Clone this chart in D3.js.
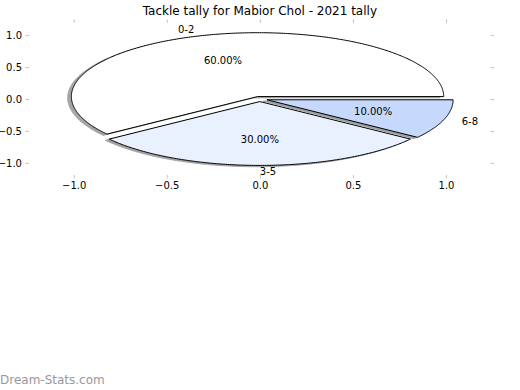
<!DOCTYPE html>
<html>
<head>
<meta charset="utf-8">
<script src="https://cdn.jsdelivr.net/npm/d3@7"></script>
<style>
  body { margin: 0; background: #fff; }
  svg { font-family: "DejaVu Sans", sans-serif; }
  .tick line { stroke: #c4c4c4; }
  .tick text { fill: #000; font-size: 10px; }
</style>
</head>
<body>
<svg id="chart"></svg>
<script>
// pie data
const labels = ['0-2', '3-5', '6-8'];
const values = [60, 30, 10];
const colors = ['#ffffff', '#eaf1fe', '#c6d9fd'];
const explode = [0.04, 0.04, 0.04];

// axis ticks
const xTicks = [-1.0, -0.5, 0.0, 0.5, 1.0];
const yTicks = [-1.0, -0.5, 0.0, 0.5, 1.0];

const width = 520, height = 390;
const margin = {top: 23, right: 29.3, bottom: 215, left: 29};

const svg = d3.select('#chart')
    .attr('width', width)
    .attr('height', height);

const x = d3.scaleLinear().domain([-1.24, 1.24]).range([margin.left, width - margin.right]);
const y = d3.scaleLinear().domain([-1.19, 1.19]).range([height - margin.bottom, margin.top]);

// axes (ticks only, no spines)
const fmt = d3.format('.1f');
svg.append('g')
    .attr('transform', `translate(${margin.left},0)`)
    .call(d3.axisLeft(y).tickValues(yTicks).tickFormat(fmt).tickSize(3.5).tickPadding(3.5))
    .call(g => g.select('.domain').remove());
svg.append('g')
    .attr('transform', `translate(${width - margin.right},0)`)
    .call(d3.axisRight(y).tickValues(yTicks).tickFormat('').tickSize(3.5))
    .call(g => g.select('.domain').remove());
svg.append('g')
    .attr('transform', `translate(0,${height - margin.bottom})`)
    .call(d3.axisBottom(x).tickValues(xTicks).tickFormat(fmt).tickSize(3.5).tickPadding(3.5))
    .call(g => g.select('.domain').remove());
svg.append('g')
    .attr('transform', `translate(0,${margin.top})`)
    .call(d3.axisTop(x).tickValues(xTicks).tickFormat('').tickSize(3.5))
    .call(g => g.select('.domain').remove());

svg.selectAll('.tick text').attr('font-family', '"DejaVu Sans", sans-serif').attr('font-size', 10);

// pie angles: start at 3 o'clock, counter-clockwise (matplotlib style)
const arcs = d3.pie().sort(null)
    .startAngle(Math.PI / 2)
    .endAngle(Math.PI / 2 - 2 * Math.PI)(values);

const total = d3.sum(values);
const wedges = arcs.map((a, i) => {
    const t0 = Math.PI / 2 - a.startAngle;
    const t1 = Math.PI / 2 - a.endAngle;
    const mid = (t0 + t1) / 2;
    return {
        label: labels[i],
        pct: (values[i] / total * 100).toFixed(2) + '%',
        color: colors[i],
        t0, t1, mid,
        cx: explode[i] * Math.cos(mid),
        cy: explode[i] * Math.sin(mid)
    };
});

function wedgePath(w, ox, oy) {
    const n = Math.max(8, Math.ceil((w.t1 - w.t0) / 0.01));
    const pts = [[w.cx + ox, w.cy + oy]];
    for (let k = 0; k <= n; k++) {
        const t = w.t0 + (w.t1 - w.t0) * k / n;
        pts.push([w.cx + ox + Math.cos(t), w.cy + oy + Math.sin(t)]);
    }
    return d3.line().x(p => x(p[0])).y(p => y(p[1]))(pts) + 'Z';
}

function shade(c) {
    const rgb = d3.rgb(c);
    return d3.rgb(rgb.r * 0.3, rgb.g * 0.3, rgb.b * 0.3);
}

// shadows (below all wedges)
svg.append('g').selectAll('path')
    .data(wedges)
    .join('path')
    .attr('d', w => wedgePath(w, -0.02, -0.02))
    .attr('fill', w => shade(w.color))
    .attr('stroke', w => shade(w.color))
    .attr('stroke-width', 1)
    .attr('opacity', 0.5);

svg.append('g').selectAll('path')
    .data(wedges)
    .join('path')
    .attr('d', w => wedgePath(w, 0, 0))
    .attr('fill', w => w.color)
    .attr('stroke', '#000')
    .attr('stroke-width', 1);

// outer labels
svg.append('g').selectAll('text')
    .data(wedges)
    .join('text')
    .attr('x', w => x(w.cx + 1.1 * Math.cos(w.mid)))
    .attr('y', w => y(w.cy + 1.1 * Math.sin(w.mid)))
    .attr('text-anchor', w => Math.cos(w.mid) > -1e-9 ? 'start' : 'end')
    .attr('dy', '0.35em')
    .attr('font-size', 10)
    .text(w => w.label);

// percentage labels
svg.append('g').selectAll('text')
    .data(wedges)
    .join('text')
    .attr('x', w => x(w.cx + 0.6 * Math.cos(w.mid)))
    .attr('y', w => y(w.cy + 0.6 * Math.sin(w.mid)))
    .attr('text-anchor', 'middle')
    .attr('dy', '0.35em')
    .attr('font-size', 10)
    .text(w => w.pct);

svg.append('text')
    .attr('x', (margin.left + width - margin.right) / 2)
    .attr('y', 14.5)
    .attr('text-anchor', 'middle')
    .attr('font-size', 12)
    .text('Tackle tally for Mabior Chol - 2021 tally');

svg.append('text')
    .attr('x', 0)
    .attr('y', 384)
    .attr('font-size', 12)
    .attr('fill', '#999999')
    .text('Dream-Stats.com');
</script>
</body>
</html>
